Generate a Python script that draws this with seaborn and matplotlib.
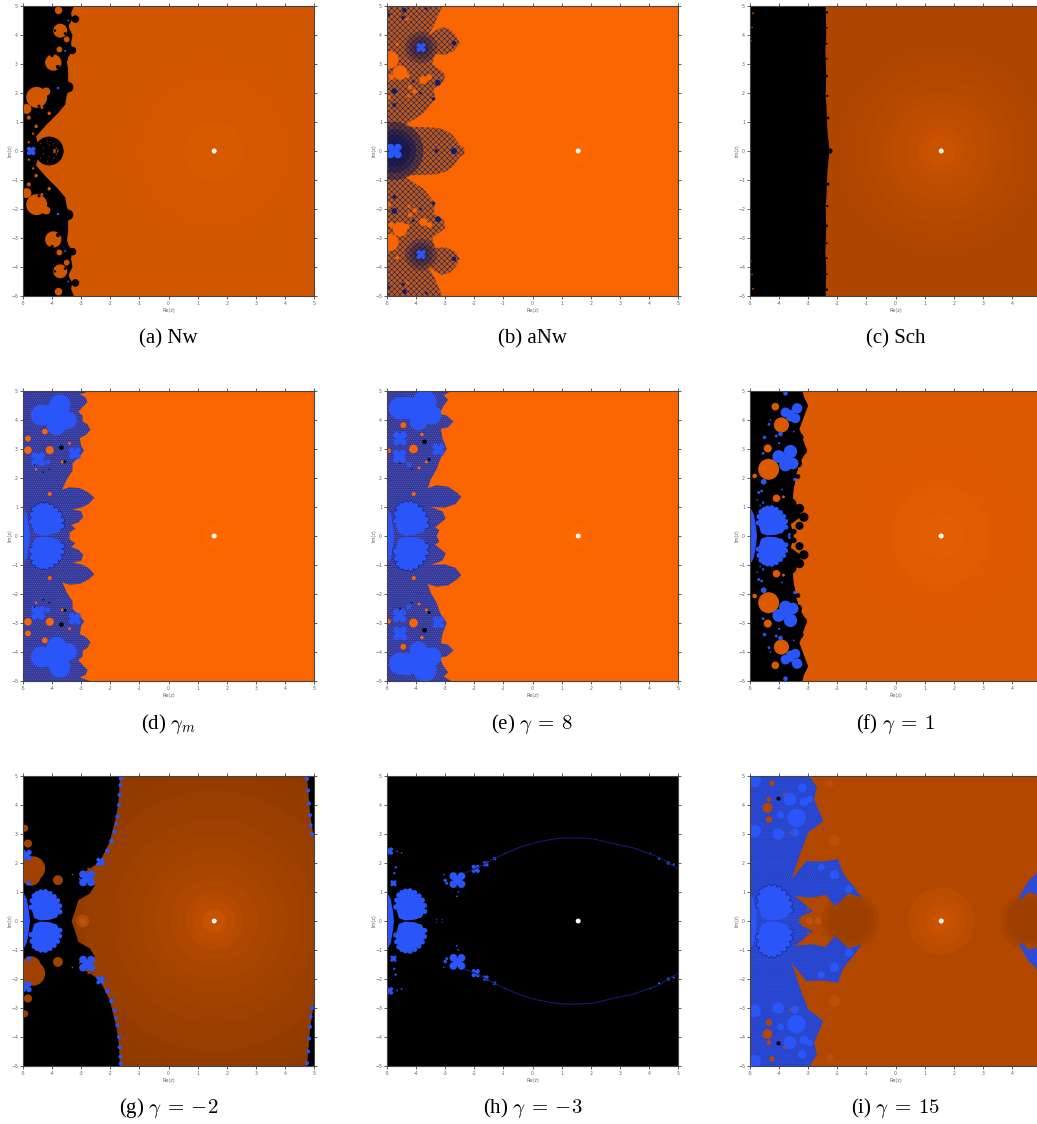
"""
Basins of attraction (dynamical planes) for nine iterative schemes, drawn in 3x3 panels
"""

import matplotlib
matplotlib.use("Agg")
import matplotlib.pyplot as plt
import seaborn as sns

W, H = 1037, 1124
PT_PER_UNIT = 291 / 10 * 72 / 100

BLUE = "#2A55F8"
MIX = "#2438B4"
DARK = "#101650"
NAVY = "#141C6A"

# root marker
root_re = [1.57]
root_im = [0.0]

# panel boxes in pixels: left, top, size
col_left = [23, 387, 750]
row_top = [6, 391, 776]
row_size = [290, 290, 290]
captions = ["(a) Nw", "(b) aNw", "(c) Sch",
            r"(d) $\gamma_m$", r"(e) $\gamma\:=\:8$", r"(f) $\gamma\:=\:1$",
            r"(g) $\gamma\:=\:-2$", r"(h) $\gamma\:=\:-3$", r"(i) $\gamma\:=\:15$"]
caption_y = [339, 724, 1108]
tick_values = [-5, -4, -3, -2, -1, 0, 1, 2, 3, 4, 5]

# glow around the root: ring radius and colour
a_ring_r, a_ring_c = [4, 2.5, 1], ["#D35700", "#D55800", "#D85A00"]
b_ring_r, b_ring_c = [0.4], ["#FC6700"]
c_ring_r = [3.5, 3, 2.5, 2, 1.7, 1.2, 0.8, 0.5]
c_ring_c = ["#B04700", "#B24800", "#B54900", "#B84B00", "#BC4D00", "#C04E00", "#C55000", "#CB5300"]
d_ring_r, d_ring_c = [0.4], ["#FC6700"]
f_ring_r, f_ring_c = [3, 1.7, 0.8], ["#DD5A00", "#E05C00", "#E35E00"]
g_ring_r = [6.2, 5.6, 5, 4.5, 4, 3.5, 3, 2.5, 2, 1.5, 1, 0.7, 0.4]
g_ring_c = ["#8D3900", "#903B00", "#943C00", "#973E00", "#9A3F00", "#9E4100", "#A14200", "#A54400", "#A94500", "#AE4700", "#B54A00", "#BC4D00", "#C65100"]
i_ring_r, i_ring_c = [1.15, 0.85, 0.55, 0.3], ["#BA4C00", "#BF4E00", "#C55100", "#CA5400"]

# wing template, fractions of the wing box
wing_u = [0.0, 0.03, 0.1, 0.2, 0.32, 0.47, 0.62, 0.76, 0.87, 0.94, 0.95, 0.85, 0.6, 0.3, 0.1]
wing_v = [0.45, 0.68, 0.85, 0.93, 0.98, 0.99, 0.93, 0.82, 0.68, 0.5, 0.3, 0.1, 0.02, 0.0, 0.08]
strip_re = [-5, -4.87, -4.79, -4.76, -5]
strip_im = [1.0, 0.75, 0.3, 0.0, 0.0]
petal_dx = [0.6, -0.6, 0.6, -0.6]
petal_dy = [0.6, 0.6, -0.6, -0.6]

# (a) Nw
a_edge_re = [-3.25, -3.35, -3.3, -3.45, -3.3, -3.35, -3.3, -3.5, -3.45, -3.45, -3.4, -3.5, -3.55, -3.8, -4.2, -4.55, -4.5, -4.4]
a_edge_im = [5, 4.75, 4.55, 4.3, 4.0, 3.7, 3.45, 3.15, 2.8, 2.45, 2.2, 1.9, 1.6, 1.3, 0.9, 0.5, 0.3, 0]
a_hole_re = [-4.53, -4.88, -4.2, -3.96, -3.75, -3.72, -3.5, -3.78, -4.8, -4.55, -4.35, -4.1, -4.65, -4.8]
a_hole_im = [1.85, 1.45, 2.05, 3.05, 3.5, 4.15, 3.85, 4.85, 1.15, 0.85, 1.5, 1.3, 0.6, 0.3]
a_hole_r = [0.36, 0.17, 0.14, 0.28, 0.1, 0.24, 0.1, 0.13, 0.07, 0.06, 0.05, 0.06, 0.04, 0.04]
a_petal_re = [-3.2, -3.5, -3.55, -3.3, -3.6, -3.6, -3.45, -3.75, -3.75, -4.1, -4.1]
a_petal_im = [4.55, 4.75, 4.3, 3.47, 3.65, 3.2, 2.2, 2.45, 1.85, 2.18, 0]
a_petal_r = [0.13, 0.12, 0.13, 0.13, 0.1, 0.15, 0.18, 0.2, 0.2, 0.12, 0.49]
a_spot_re = [-4.0, -3.8, -3.62, -3.6, -3.55, -3.9, -3.85, -3.75, -4.2, -4.35, -4.45]
a_spot_im = [3.3, 2.9, 2.75, 3.0, 4.05, 4.15, 4.55, 3.7, 2.5, 2.35, 1.55]
a_spot_r = [0.06, 0.07, 0.04, 0.04, 0.05, 0.04, 0.04, 0.04, 0.05, 0.04, 0.05]
a_fleck_re = [-3.92, -3.85, -4.1, -4.3, -4.15, -3.95, -4.4, -3.8]
a_fleck_im = [0.03, 0.1, 0.2, 0.1, 0.35, 0.25, 0.25, 0.03]
a_fleck_r = [0.05, 0.025, 0.02, 0.02, 0.02, 0.02, 0.02, 0.03]
a_blue_re = [-3.44, -3.55, -3.8]
a_blue_im = [4.5, 3.45, 2.17]
a_blue_r = [0.035, 0.035, 0.045]

# (b) aNw
b_mesh_re = [-5, -3.1, -3.4, -3.65, -3.35, -3.1, -2.85, -2.65, -2.5, -2.7, -3.0, -3.35, -3.45, -3.0, -3.05, -3.4, -3.35, -3.75, -4.45, -3.7, -3.3, -3.0, -2.75, -2.6, -2.5, -2.35, -2.33]
b_mesh_im = [5, 5, 4.3, 3.9, 4.15, 4.27, 4.2, 4.0, 3.72, 3.45, 3.32, 3.35, 3.0, 2.65, 2.4, 2.15, 1.8, 1.3, 0.85, 0.82, 0.8, 0.72, 0.55, 0.35, 0.2, 0.1, 0]
b_hole_re = [-4.9, -4.55, -4.85, -4.3, -3.75, -3.55, -4.2, -4.05, -4.65, -4.95, -4.3, -4.25]
b_hole_im = [3.15, 2.7, 2.55, 2.6, 2.45, 2.55, 2.2, 2.05, 3.68, 1.85, 4.55, 1.9]
b_hole_r = [0.3, 0.25, 0.1, 0.08, 0.14, 0.1, 0.08, 0.08, 0.06, 0.08, 0.05, 0.06]
b_node_re = [-2.7, -3.25, -4.75, -4.75, -3.4, -2.7, -3.3, -4.4, -3.65, -4.1, -4.95, -4.45, -3.85]
b_node_im = [3.72, 2.35, 2.07, 1.58, 1.8, 0, 0, 4.85, 4.9, 2.4, 4.7, 4.6, 2.0]
b_node_r = [0.08, 0.1, 0.1, 0.07, 0.06, 0.1, 0.06, 0.08, 0.05, 0.05, 0.06, 0.06, 0.05]
b_halo_re = [-3.83, -3.83, -3.83, -4.75, -4.75, -4.75, -4.75]
b_halo_im = [3.57, 3.57, 3.57, 0, 0, 0, 0]
b_halo_r = [0.55, 0.4, 0.25, 1.0, 0.75, 0.55, 0.35]
b_clover_re = [-3.83, -4.75]
b_clover_im = [3.57, 0]
b_clover_r = [0.13, 0.21]

# (c) Sch
c_edge_re = [-2.4, -2.38, -2.41, -2.38, -2.4, -2.37, -2.36, -2.33, -2.3, -2.27]
c_edge_im = [5, 4, 3.5, 2.6, 1.9, 1.5, 1.1, 0.6, 0.3, 0]
c_bump_re = [-2.36, -2.36, -2.36, -2.36, -2.36, -2.34, -2.32, -2.25]
c_bump_im = [4.78, 4.25, 3.7, 3.18, 2.58, 1.9, 1.14, 0]
c_bump_r = [0.04, 0.03, 0.03, 0.03, 0.04, 0.04, 0.05, 0.08]
c_hole_re = [-4.9, -4.93, -4.97]
c_hole_im = [4.75, 4.26, 3.8]
c_hole_r = [0.035, 0.03, 0.03]

# (d) gamma_m
d_edge_re = [-2.7, -3.05, -2.85, -2.78, -2.95, -3.1, -2.95, -2.95, -2.78, -2.68, -2.85, -3.05, -3.0, -2.9, -3.05, -3.3, -3.3, -3.5, -3.65, -3.4, -3.05, -2.75, -2.55, -2.75, -3.0, -3.3, -3.0, -2.93, -3.1, -3.35, -3.2, -3.4, -3.4]
d_edge_im = [5, 4.88, 4.78, 4.62, 4.45, 4.28, 4.15, 3.95, 3.85, 3.65, 3.48, 3.38, 3.1, 2.95, 2.75, 2.5, 2.25, 1.95, 1.6, 1.68, 1.65, 1.5, 1.32, 1.1, 0.98, 0.92, 0.85, 0.65, 0.47, 0.38, 0.25, 0.12, 0]
d_leaf_re = [-3.73, -4.37, -3.85, -3.45, -3.95, -4.05]
d_leaf_im = [4.52, 4.17, 3.82, 3.99, 4.15, 4.35]
d_leaf_r = [0.36, 0.36, 0.34, 0.3, 0.25, 0.2]
d_clover_re = [-4.48, -3.22, -4.15]
d_clover_im = [2.65, 2.85, 2.55]
d_clover_r = [0.2, 0.17, 0.07]
d_hole_re = [-4.83, -4.08, -4.25, -4.83, -4.08, -3.65, -3.4, -4.55]
d_hole_im = [3.36, 2.96, 3.6, 2.96, 1.45, 2.55, 3.2, 2.3]
d_hole_r = [0.1, 0.14, 0.1, 0.13, 0.07, 0.05, 0.05, 0.04]
d_black_re = [-3.68, -3.56, -4.6, -4.3, -4.1]
d_black_im = [3.05, 2.56, 2.45, 2.2, 2.3]
d_black_r = [0.08, 0.05, 0.025, 0.025, 0.025]

# (e) gamma = 8
e_edge_re = [-2.8, -3.05, -2.9, -3.05, -3.2, -2.95, -2.72, -2.9, -3.15, -3.1, -2.95, -3.15, -3.3, -3.5, -3.6, -3.3, -2.9, -2.6, -2.45, -2.65, -3.0, -3.5, -3.1, -2.98, -3.2, -3.35, -3.2, -3.3]
e_edge_im = [5, 4.85, 4.7, 4.5, 4.2, 4.15, 3.95, 3.75, 3.7, 3.4, 3.0, 2.7, 2.3, 1.95, 1.65, 1.75, 1.7, 1.5, 1.35, 1.1, 0.98, 1.0, 0.85, 0.6, 0.42, 0.3, 0.2, 0]
e_leaf_re = [-4.55, -4.3, -3.7, -3.46, -3.92, -4.0, -4.68]
e_leaf_im = [4.4, 4.42, 4.63, 4.17, 3.94, 4.35, 4.4]
e_leaf_r = [0.38, 0.38, 0.4, 0.33, 0.3, 0.3, 0.25]
e_clover_re = [-4.55, -4.57, -3.23, -4.25]
e_clover_im = [3.36, 2.75, 2.98, 2.45]
e_clover_r = [0.2, 0.19, 0.17, 0.07]
e_hole_re = [-4.09, -4.44, -4.95, -3.8, -3.65, -3.9, -4.08]
e_hole_im = [3.0, 3.82, 2.94, 3.5, 2.55, 2.35, 1.45]
e_hole_r = [0.15, 0.1, 0.08, 0.06, 0.05, 0.05, 0.07]
e_black_re = [-3.71, -3.55, -4.55, -4.15]
e_black_im = [3.25, 2.64, 2.5, 2.3]
e_black_r = [0.08, 0.05, 0.025, 0.025]

# (f) gamma = 1
f_edge_re = [-3.2, -3.15, -3.0, -3.3, -3.05, -3.35, -3.5, -3.55, -3.2, -3.6, -3.5, -3.5]
f_edge_im = [5, 4.8, 4.5, 3.7, 2.95, 2.4, 1.6, 1.05, 0.7, 0.4, 0.05, 0]
f_hole_re = [-3.92, -4.36, -4.39, -4.13, -4.84, -4.09, -3.85]
f_hole_im = [3.83, 2.3, 3.02, 4.46, 2.07, 1.3, 1.35]
f_hole_r = [0.26, 0.36, 0.14, 0.13, 0.08, 0.13, 0.05]
f_leaf_re = [-3.61, -4.01, -3.78, -3.53, -3.75, -3.38, -3.78, -3.44, -3.61, -3.58]
f_leaf_im = [2.91, 2.74, 2.45, 2.5, 2.7, 4.4, 4.26, 4.06, 4.1, 4.25]
f_leaf_r = [0.23, 0.22, 0.22, 0.2, 0.14, 0.18, 0.17, 0.17, 0.15, 0.1]
f_lobe_re = [-4.2, -4.0, -3.8, -3.55, -3.4, -3.42, -3.35, -3.5, -3.3, -3.2, -3.35, -3.45, -3.35, -3.7, -3.6, -3.3, -3.15, -3.3, -3.5]
f_lobe_im = [4.9, 4.95, 4.9, 4.85, 4.65, 4.3, 3.95, 3.65, 3.4, 2.95, 2.5, 2.3, 2.05, 1.95, 1.1, 0.95, 0.65, 0.35, 0.15]
f_lobe_r = [0.14, 0.14, 0.15, 0.15, 0.16, 0.16, 0.1, 0.1, 0.14, 0.16, 0.14, 0.1, 0.08, 0.08, 0.2, 0.16, 0.16, 0.14, 0.1]
f_blue_re = [-4.53, -3.46, -3.95, -3.78, -4.7, -4.1, -4.55, -4.6, -4.5, -4.0, -3.65, -4.35, -4.55, -3.5, -4.75, -4.65, -4.3, -3.9]
f_blue_im = [1.87, 1.95, 3.52, 4.92, 1.5, 3.45, 2.85, 1.55, 3.4, 3.2, 0.05, 3.85, 1.15, 3.6, 1.25, 1.05, 4.0, 1.6]
f_blue_r = [0.1, 0.06, 0.08, 0.08, 0.05, 0.05, 0.05, 0.05, 0.06, 0.04, 0.05, 0.05, 0.04, 0.03, 0.03, 0.03, 0.03, 0.03]

# (g) gamma = -2
g_edge_re = [-1.67, -1.7, -1.79, -2.02, -2.36, -2.7, -3.05, -2.53, -2.7, -3.1, -3.22, -3.33]
g_edge_im = [5, 4.3, 3.65, 2.73, 2.04, 1.81, 1.6, 1.24, 0.95, 0.72, 0.32, 0]
g_right_re = [4.76, 4.87, 4.98, 5.05, 5.1]
g_right_im = [5, 3.65, 2.96, 2.7, 5]
g_hole_re = [-4.66, -4.72, -3.8, -4.83, -4.94, -2.75, -3.05, -2.5, -3.3, -2.85]
g_hole_im = [1.81, 1.55, 1.41, 2.67, 3.2, 1.8, 1.45, 1.42, 1.6, 1.25]
g_hole_r = [0.42, 0.33, 0.17, 0.14, 0.12, 0.04, 0.03, 0.03, 0.03, 0.03]
g_clover_re = [-2.8, -2.34, -4.89, -4.8]
g_clover_im = [1.47, 2.04, 2.27, 1.3]
g_clover_r = [0.23, 0.12, 0.16, 0.07]
g_chain_re = [-2.1, -1.96, -1.85, -1.8, -1.76, -1.7, -1.68, -1.65, -1.64, 4.76, 4.8, 4.83, 4.86, 4.88, 4.93]
g_chain_im = [2.42, 2.76, 3.08, 3.35, 3.6, 4.0, 4.35, 4.68, 4.92, 4.9, 4.5, 4.05, 3.65, 3.3, 3.0]
g_chain_r = [0.08, 0.08, 0.07, 0.06, 0.07, 0.07, 0.07, 0.07, 0.07, 0.07, 0.07, 0.07, 0.07, 0.07, 0.07]
g_spot_re = [-2.95, -2.95]
g_spot_im = [0, 0]
g_spot_r = [0.22, 0.1]

# (h) gamma = -3
h_curve_re = [-2.35, -1.97, -1.63, -1.32, -0.93, -0.42, 0.16, 0.85, 1.42, 2.1, 2.8, 3.48, 4.0, 4.4, 4.67, 5.0]
h_curve_im = [1.65, 1.8, 1.97, 2.15, 2.33, 2.55, 2.72, 2.85, 2.87, 2.83, 2.66, 2.52, 2.33, 2.18, 2.0, 1.8]
h_clover_re = [-2.58, -1.95, -4.92, -4.78, -1.6, -1.3]
h_clover_im = [1.41, 1.8, 2.41, 1.3, 1.97, 2.15]
h_clover_r = [0.23, 0.12, 0.11, 0.09, 0.08, 0.05]
h_fleck_re = [-3.0, -2.95, -3.05, -2.55, -2.6, -4.75, -4.7, -4.65, -4.5, -0.95, -0.55, 4.05, 4.35, 4.67, 4.85, -3.3, -3.1]
h_fleck_im = [1.4, 1.3, 1.6, 1.0, 0.85, 1.65, 1.85, 2.4, 2.35, 2.33, 2.5, 2.33, 2.15, 2.0, 1.95, 0.05, 0.05]
h_fleck_r = [0.06, 0.05, 0.03, 0.03, 0.03, 0.04, 0.04, 0.03, 0.03, 0.025, 0.02, 0.03, 0.04, 0.06, 0.04, 0.02, 0.02]

# (i) gamma = 15
i_edge_re = [-2.95, -2.7, -2.8, -2.48, -3.0, -3.25, -3.57, -3.06, -2.5, -1.97, -1.85, -1.74, -1.45, -1.16, -1.6, -2.08, -2.4, -2.89, -3.46, -2.83, -3.23, -3.29]
i_edge_im = [5, 4.6, 4.2, 3.45, 3.05, 2.4, 1.44, 2.07, 2.05, 2.13, 1.75, 1.55, 1.2, 0.8, 0.95, 0.52, 0.9, 0.8, 0.86, 0.34, 0.17, 0]
i_right_re = [4.24, 4.55, 4.9, 5.05, 5.05, 4.9, 4.6, 4.3]
i_right_im = [0.8, 1.35, 1.7, 1.8, 0.9, 0.9, 1.0, 0.75]
i_dim_re = [-1.56, -1.56, -1.56, 4.6, 4.6, 4.6]
i_dim_im = [0, 0, 0, 0, 0, 0]
i_dim_r = [1.0, 0.85, 0.7, 1.0, 0.85, 0.7]
i_hole_re = [-4.4, -4.35, -4.25, -3.8, -3.55, -4.35, -2.8, -3.0, -3.3]
i_hole_im = [3.9, 3.5, 4.75, 4.35, 3.05, 4.2, 0.62, 0.4, 0.05]
i_hole_r = [0.17, 0.11, 0.09, 0.06, 0.08, 0.08, 0.05, 0.04, 0.03]
i_cloud_re = [-3.4, -3.63, -4.84, -4.03, -4.84, -3.15, -3.45, -2.55, -2.1, -1.6, -3.95, -3.2, -2.95]
i_cloud_im = [3.56, 4.2, 3.1, 3.0, 4.83, 4.1, 3.05, 1.85, 1.6, 1.1, 3.65, 4.6, 4.2]
i_cloud_r = [0.32, 0.22, 0.22, 0.2, 0.22, 0.15, 0.14, 0.12, 0.16, 0.14, 0.12, 0.15, 0.12]
i_black_re = [-4.02]
i_black_im = [4.22]
i_black_r = [0.07]
i_spot_re = [-2.1, -2.25, -2.95, -2.65]
i_spot_im = [2.77, 4.72, 0, 0]
i_spot_r = [0.2, 0.12, 0.12, 0.12]


def dots(ax, re, im, r, colour, alpha=1, mirror=True):
    xs = list(re)
    ys = list(im)
    rs = list(r)
    if mirror:
        xs = xs + list(re)
        ys = ys + [-v for v in im]
        rs = rs + list(r)
    sizes = [(2 * v * PT_PER_UNIT) ** 2 for v in rs]
    sns.scatterplot(x=xs, y=ys, s=sizes, color=colour, alpha=alpha, edgecolor="none",
                    linewidth=0, ax=ax, legend=False)


def shape(ax, re, im, colour, hatch=None, hatch_colour=None):
    # upper half given from top down to the real axis, lower half is its mirror
    xs = [-5.1] + list(re) + list(re)[::-1] + [-5.1]
    ys = [im[0]] + list(im) + [-v for v in im][::-1] + [-im[0]]
    ax.fill(xs, ys, facecolor=colour, edgecolor=hatch_colour or colour, hatch=hatch, linewidth=0)


def both(ax, re, im, colour):
    ax.fill(re, im, color=colour, linewidth=0)
    ax.fill(re, [-v for v in im], color=colour, linewidth=0)


def clovers(ax, re, im, r, colour):
    for x, y, size in zip(re, im, r):
        dots(ax, [x + d * size for d in petal_dx], [y + d * size for d in petal_dy],
             [size * 0.58] * 4, colour)
        dots(ax, [x], [y], [size * 0.6], colour)


def wing(ax, left, right, top, halo=DARK):
    bottom = 0.02
    xs = [left + u * (right - left) for u in wing_u]
    ys = [bottom + v * (top - bottom) for v in wing_v]
    if halo:
        dots(ax, xs[:11], ys[:11], [0.105] * 11, halo)
    both(ax, xs, ys, BLUE)
    dots(ax, xs[:11], ys[:11], [0.09] * 11, BLUE)
    both(ax, strip_re, strip_im, BLUE)


def rings(ax, radii, colours):
    for radius, colour in zip(radii, colours):
        dots(ax, root_re, root_im, [radius], colour, mirror=False)


def panel_a(ax):
    ax.set_facecolor("#D15600")
    rings(ax, a_ring_r, a_ring_c)
    shape(ax, a_edge_re, a_edge_im, "black")
    dots(ax, a_petal_re, a_petal_im, a_petal_r, "black")
    dots(ax, a_hole_re, a_hole_im, a_hole_r, "#D15600")
    dots(ax, a_spot_re, a_spot_im, a_spot_r, "black")
    dots(ax, a_fleck_re, a_fleck_im, a_fleck_r, "#A04400")
    dots(ax, a_blue_re, a_blue_im, a_blue_r, BLUE)
    clovers(ax, [-4.72], [0], [0.12], BLUE)


def panel_b(ax):
    ax.set_facecolor("#F96500")
    rings(ax, b_ring_r, b_ring_c)
    shape(ax, b_mesh_re, b_mesh_im, "#B85A20", hatch="xxxxxx", hatch_colour=DARK)
    dots(ax, b_hole_re, b_hole_im, b_hole_r, "#F96500")
    dots(ax, b_node_re, b_node_im, b_node_r, NAVY)
    dots(ax, b_halo_re, b_halo_im, b_halo_r, DARK, alpha=0.3)
    clovers(ax, b_clover_re, b_clover_im, b_clover_r, BLUE)


def panel_c(ax):
    ax.set_facecolor("#AE4600")
    rings(ax, c_ring_r, c_ring_c)
    shape(ax, c_edge_re, c_edge_im, "black")
    dots(ax, c_bump_re, c_bump_im, c_bump_r, "black")
    dots(ax, c_hole_re, c_hole_im, c_hole_r, "#AE4600")


def panel_d(ax):
    ax.set_facecolor("#FB6500")
    rings(ax, d_ring_r, d_ring_c)
    shape(ax, d_edge_re, d_edge_im, MIX, hatch="........", hatch_colour="#A8643C")
    dots(ax, d_hole_re, d_hole_im, d_hole_r, "#FB6500")
    dots(ax, d_leaf_re, d_leaf_im, d_leaf_r, BLUE)
    clovers(ax, d_clover_re, d_clover_im, d_clover_r, BLUE)
    dots(ax, d_black_re, d_black_im, d_black_r, "black")
    wing(ax, -4.72, -3.6, 1.08)


def panel_e(ax):
    ax.set_facecolor("#FB6500")
    rings(ax, d_ring_r, d_ring_c)
    shape(ax, e_edge_re, e_edge_im, MIX, hatch="........", hatch_colour="#A8643C")
    dots(ax, e_hole_re, e_hole_im, e_hole_r, "#FB6500")
    dots(ax, e_leaf_re, e_leaf_im, e_leaf_r, BLUE)
    clovers(ax, e_clover_re, e_clover_im, e_clover_r, BLUE)
    dots(ax, e_black_re, e_black_im, e_black_r, "black")
    wing(ax, -4.72, -3.58, 1.13)


def panel_f(ax):
    ax.set_facecolor("#DB5900")
    rings(ax, f_ring_r, f_ring_c)
    shape(ax, f_edge_re, f_edge_im, "black")
    dots(ax, f_lobe_re, f_lobe_im, f_lobe_r, "black")
    dots(ax, f_hole_re, f_hole_im, f_hole_r, "#DB5900")
    dots(ax, f_leaf_re, f_leaf_im, f_leaf_r, BLUE)
    dots(ax, f_blue_re, f_blue_im, f_blue_r, BLUE)
    wing(ax, -4.72, -3.72, 0.98, halo=None)


def panel_g(ax):
    ax.set_facecolor("#8A3800")
    rings(ax, g_ring_r, g_ring_c)
    dots(ax, g_spot_re, g_spot_im, g_spot_r, "#C85A10", alpha=0.35)
    shape(ax, g_edge_re, g_edge_im, "black")
    both(ax, g_right_re, g_right_im, "black")
    dots(ax, g_hole_re, g_hole_im, g_hole_r, "#A04100")
    clovers(ax, g_clover_re, g_clover_im, g_clover_r, BLUE)
    dots(ax, g_chain_re, g_chain_im, g_chain_r, BLUE)
    wing(ax, -4.72, -3.68, 1.02, halo=None)


def panel_h(ax):
    ax.set_facecolor("black")
    sns.lineplot(x=h_curve_re, y=h_curve_im, color=NAVY, linewidth=0.8, sort=False, ax=ax, legend=False)
    sns.lineplot(x=h_curve_re, y=[-v for v in h_curve_im], color=NAVY, linewidth=0.8, sort=False, ax=ax, legend=False)
    clovers(ax, h_clover_re, h_clover_im, h_clover_r, BLUE)
    dots(ax, h_fleck_re, h_fleck_im, h_fleck_r, BLUE)
    wing(ax, -4.7, -3.65, 1.05, halo=None)


def panel_i(ax):
    ax.set_facecolor("#B24800")
    rings(ax, i_ring_r, i_ring_c)
    dots(ax, i_dim_re, i_dim_im, i_dim_r, "#8E3A00", alpha=0.25, mirror=False)
    dots(ax, i_spot_re, i_spot_im, i_spot_r, "#C85A10", alpha=0.4)
    shape(ax, i_edge_re, i_edge_im, "#2A4AD8", hatch="........", hatch_colour="#2438A0")
    both(ax, i_right_re, i_right_im, "#2A4AD8")
    dots(ax, i_hole_re, i_hole_im, i_hole_r, "#B24800")
    dots(ax, i_cloud_re, i_cloud_im, i_cloud_r, BLUE)
    dots(ax, i_black_re, i_black_im, i_black_r, "black")
    wing(ax, -4.72, -3.55, 1.18)


sns.set_theme(style="ticks")
plt.rcParams["font.family"] = ["Liberation Serif", "DejaVu Sans"]
plt.rcParams["mathtext.fontset"] = "cm"
plt.rcParams["hatch.linewidth"] = 0.35

fig = plt.figure(figsize=(W / 100, H / 100), dpi=100)
fig.patch.set_facecolor("white")
painters = [panel_a, panel_b, panel_c, panel_d, panel_e, panel_f, panel_g, panel_h, panel_i]

for i, paint in enumerate(painters):
    row, col = divmod(i, 3)
    left, top, size = col_left[col], row_top[row], row_size[row]
    ax = fig.add_axes([left / W, 1 - (top + size) / H, (size + 1) / W, size / H])
    paint(ax)
    dots(ax, root_re, root_im, [0.085], "white", mirror=False)

    ax.set_xlim(-5, 5)
    ax.set_ylim(-5, 5)
    ax.set_xticks(tick_values)
    ax.set_yticks(tick_values)
    # the last column runs past the page edge, its "5" falls off the picture
    x_labels = [str(v) if not (col == 2 and v == 5) else "" for v in tick_values]
    ax.set_xticklabels(x_labels)
    ax.set_axisbelow(False)
    ax.tick_params(axis="both", which="both", direction="out", length=2, width=0.6, color="#444444",
                   labelsize=3.4, labelcolor="#666666", pad=1.5, top=True, right=True,
                   labelfontfamily="DejaVu Sans")
    ax.set_xlabel("Re(z)", fontsize=3.6, color="#666666", family="DejaVu Sans")
    ax.set_ylabel("Im(z)", fontsize=3.6, color="#666666", family="DejaVu Sans")
    ax.xaxis.set_label_coords(0.5, -12 / 290)
    ax.yaxis.set_label_coords(-10.5 / 291, 0.5)
    for spine in ax.spines.values():
        spine.set_color("#444444")
        spine.set_linewidth(0.8)
    fig.text((left + size / 2 + 0.5) / W, 1 - caption_y[row] / H, captions[i], fontsize=15,
             ha="center", va="center", color="black")

plt.savefig("out.png", dpi=100)
